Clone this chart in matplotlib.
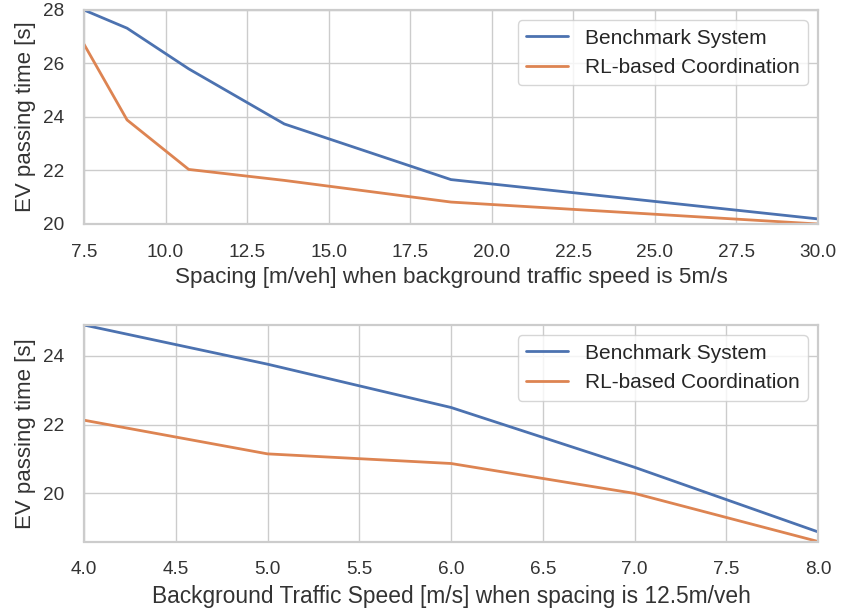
import matplotlib
matplotlib.use("Agg")
import matplotlib.pyplot as plt
import seaborn as sns

# Top panel: spacing sweep at 5 m/s
spacing = [7.5, 8.82, 10.71, 13.64, 18.75, 30.0]
bench_spacing = [28.0, 27.32, 25.8, 23.74, 21.66, 20.19]
rl_spacing = [26.72, 23.89, 22.04, 21.63, 20.82, 20.0]

# Bottom panel: speed sweep at 12.5 m/veh
speed = [4, 5, 6, 7, 8]
bench_speed = [24.9, 23.76, 22.5, 20.76, 18.88]
rl_speed = [22.13, 21.15, 20.87, 20.0, 18.6]

labels = ["Benchmark System", "RL-based Coordination"]
xlabel_top = "Spacing [m/veh] when background traffic speed is 5m/s"
xlabel_bot = "Background Traffic Speed [m/s] when spacing is 12.5m/veh"
ylabel = "EV passing time [s]"

sns.set_theme(style="whitegrid")
plt.rcParams["font.family"] = ["Liberation Sans", "DejaVu Sans"]
plt.rcParams["axes.edgecolor"] = "#cccccc"

fig = plt.figure(figsize=(8.42, 6.11), dpi=100)
ax1 = fig.add_axes([84/842, 1-224/611, (818-84)/842, (224-10)/611])
ax2 = fig.add_axes([84/842, 1-541.5/611, (818-84)/842, (541.5-325)/611])

c_blue = "#4c72b0"
c_orange = "#dd8452"

ax1.plot(spacing, bench_spacing, color=c_blue, lw=2.0, label=labels[0])
ax1.plot(spacing, rl_spacing, color=c_orange, lw=2.0, label=labels[1])
ax1.margins(0)
ax1.set_xticks([7.5, 10, 12.5, 15, 17.5, 20, 22.5, 25, 27.5, 30])
ax1.set_yticks([20, 22, 24, 26, 28])
ax1.set_xlabel(xlabel_top, fontsize=16.2, color="#333333", labelpad=4.5)
ax1.set_ylabel(ylabel, fontsize=16.0, color="#333333", labelpad=5)
ax1.legend(loc="upper right", fontsize=15, framealpha=0.8)

ax2.plot(speed, bench_speed, color=c_blue, lw=2.0, label=labels[0])
ax2.plot(speed, rl_speed, color=c_orange, lw=2.0, label=labels[1])
ax2.margins(0)
ax2.set_xticks([4.0, 4.5, 5.0, 5.5, 6.0, 6.5, 7.0, 7.5, 8.0])
ax2.set_yticks([20, 22, 24])
ax2.set_xlabel(xlabel_bot, fontsize=16.4, color="#333333", labelpad=4.5)
ax2.set_ylabel(ylabel, fontsize=16.0, color="#333333", labelpad=5)
ax2.legend(loc="upper right", fontsize=15, framealpha=0.8)

for ax in (ax1, ax2):
    ax.tick_params(labelsize=13.7, colors="#333333", pad=8.4)
    for s in ax.spines.values():
        s.set_linewidth(1.6)

fig.savefig("out.png", dpi=100)
